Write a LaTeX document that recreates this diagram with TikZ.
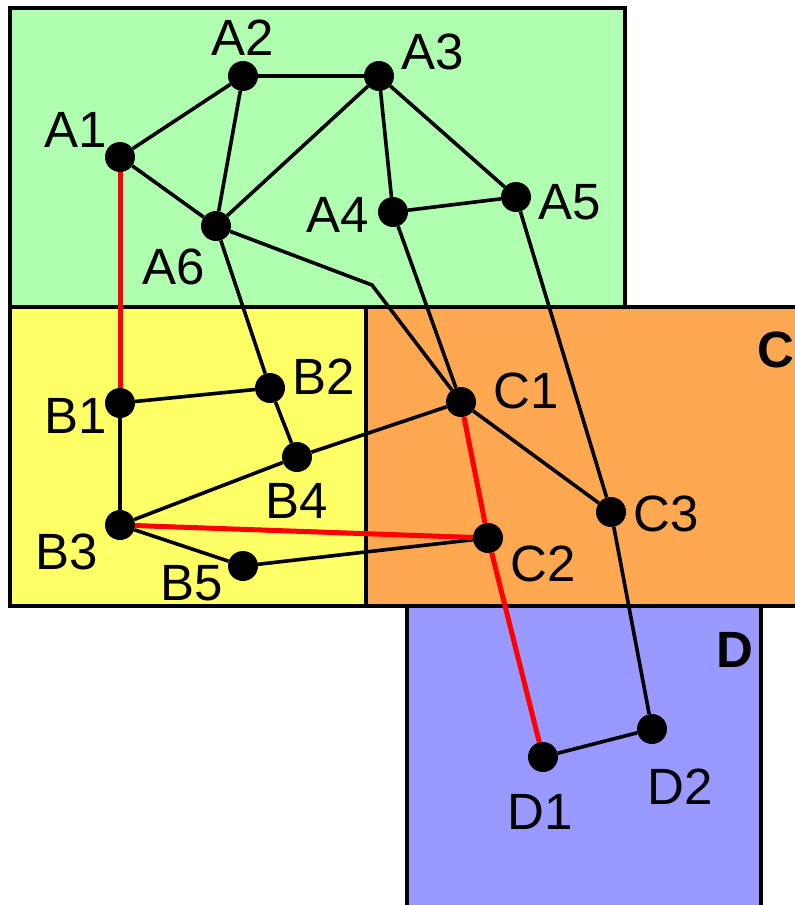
\documentclass[tikz,border=0pt]{standalone}
\usepackage{fontspec}
\setmainfont{Liberation Sans}
\definecolor{ZoneA}{HTML}{B0FFB0}
\definecolor{ZoneB}{HTML}{FFFF66}
\definecolor{ZoneC}{HTML}{FFA852}
\definecolor{ZoneD}{HTML}{9999FF}
\begin{document}
\begin{tikzpicture}[x=1pt,y=-1pt,
    zone/.style={draw=black,line width=4pt},
    dot/.style={circle,fill=black,inner sep=0pt,minimum size=30pt},
    lbl/.style={inner sep=0pt,font=\fontsize{51}{51}\selectfont},
    tag/.style={inner sep=0pt,font=\fontsize{51}{51}\selectfont\bfseries},
    edge/.style={line width=3.6pt},
    route/.style={red,line width=5pt}]
    \useasboundingbox (0,0) rectangle (795,905);
    \clip (0,0) rectangle (795,905);
    % zones
    \filldraw[zone,fill=ZoneA] (10,8) rectangle (625,307);
    \filldraw[zone,fill=ZoneB] (10,307) rectangle (366,606);
    \filldraw[zone,fill=ZoneC] (366,307) rectangle (840,606);
    \filldraw[zone,fill=ZoneD] (407,606) rectangle (761,960);
    \node[tag,anchor=west] (tC) at (757,350) {C};
    \node[tag] (tD) at (735,650) {D};
    % stations
    \foreach \n/\x/\y/\lx/\ly in {A1/120/157/76/130,A2/243/76/243/38,A3/379/76/433/52,
        A4/393/212/338/215,A5/516/197/570/202,A6/216/226/174/267,
        B1/120/403/76/416,B2/270/388/324/377,B3/120/525/67/552,B4/297/457/297/501,B5/243/566/192/583,
        C1/461/402/526/391,C2/488/538/543/564,C3/611/512/666/514,
        D1/543/757/540/812,D2/652/729/680/787}{
      \node[dot] (\n) at (\x,\y) {};
      \node[lbl] (l\n) at (\lx,\ly) {\n};
    }
    \coordinate (bend) at (372,285);
    % links
    \foreach \u/\v in {A1/A2,A1/A6,A2/A3,A2/A6,A3/A6,A3/A4,A3/A5,A4/A5,A6/B2,A4/C1,A5/C3,
        B1/B2,B1/B3,B2/B4,B4/B3,B4/C1,B3/B5,B5/C2,C1/C3,C3/D2,D1/D2}\draw[edge] (\u)--(\v);
    \draw[edge] (A6)--(bend)--(C1);
    \foreach \u/\v in {A1/B1,B3/C2,C1/C2,C2/D1}\draw[route] (\u)--(\v);
  \end{tikzpicture}
\end{document}
